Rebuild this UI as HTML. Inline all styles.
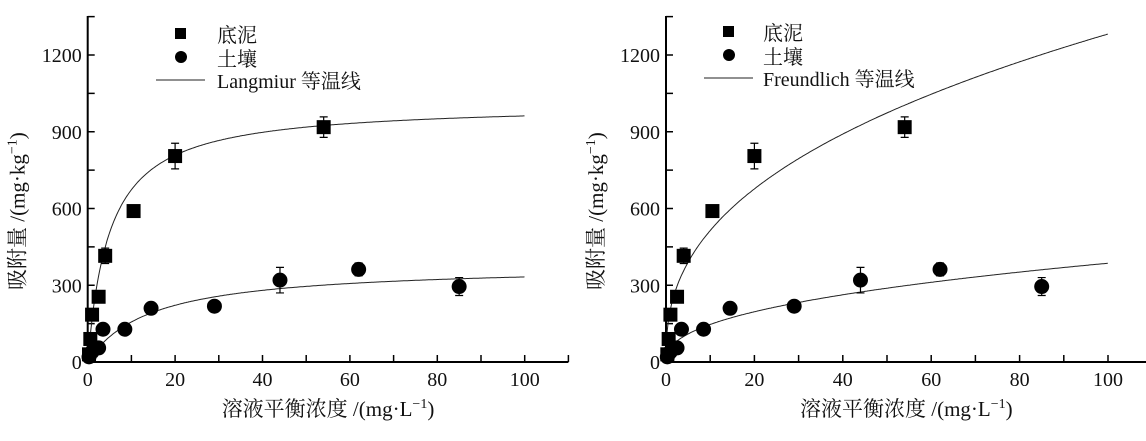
<!DOCTYPE html>
<html><head><meta charset="utf-8"><style>
html,body{margin:0;padding:0;background:#fff;}
svg text{font-family:"Liberation Serif","Noto Serif CJK SC",serif;fill:#111;}
</style></head><body>
<svg id="s" width="1146" height="436" xmlns="http://www.w3.org/2000/svg"></svg>
<script>
const s=document.getElementById('s');
let h='';
function chart(x0,sx,fit){
  const y0=362, sy=307/1200;
  const X=v=>x0+v*sx, Y=v=>y0-v*sy;
  h+=`<line x1="${x0}" y1="16" x2="${x0}" y2="${y0}" stroke="#000" stroke-width="2"/>`;
  h+=`<line x1="${x0-1}" y1="${y0}" x2="${X(110)}" y2="${y0}" stroke="#000" stroke-width="2"/>`;
  for(let v=0;v<=1350;v+=150){ if(v>0) h+=`<line x1="${x0}" y1="${Y(v)}" x2="${x0+7}" y2="${Y(v)}" stroke="#000" stroke-width="1.5"/>`;
    if(v%300==0) h+=`<text x="${x0-6}" y="${Y(v)+7}" font-size="20" text-anchor="end">${v}</text>`;}
  for(let v=10;v<=110;v+=10){ h+=`<line x1="${X(v)}" y1="${y0}" x2="${X(v)}" y2="${y0-7}" stroke="#000" stroke-width="1.5"/>`;}
  for(let v=0;v<=100;v+=20) h+=`<text x="${X(v)}" y="386" font-size="20" text-anchor="middle">${v}</text>`;
  h+=`<text x="${x0+134}" y="416" font-size="21">溶液平衡浓度 /(mg·L<tspan font-size="14" dy="-8">−1</tspan><tspan dy="8">)</tspan></text>`;
  h+=`<text transform="translate(${x0-63},290) rotate(-90)" font-size="21">吸附量 /(mg·kg<tspan font-size="14" dy="-8">−1</tspan><tspan dy="8">)</tspan></text>`;
  for(const f of fit){ let p=''; for(let c=0.2;c<=100;c+=0.25){p+=(p?'L':'M')+X(c).toFixed(1)+','+Y(f(c)).toFixed(1);} h+=`<path d="${p}" fill="none" stroke="#222" stroke-width="1"/>`;}
  const sq=[[0.3,30],[0.6,90],[1,185],[2.5,255,0],[4,415,30],[10.5,590,0],[20,805,50],[54,918,40]];
  const ci=[[0.3,20],[1,40],[2.5,55],[3.5,128],[8.5,128],[14.5,210],[29,218],[44,320,50],[62,362,25],[85,295,35]];
  for(const d of sq){ if(d[2]) h+=eb(X(d[0]),Y(d[1]),d[2]*sy); h+=`<rect x="${X(d[0])-7}" y="${Y(d[1])-7}" width="14" height="14" fill="#000"/>`;}
  for(const d of ci){ if(d[2]) h+=eb(X(d[0]),Y(d[1]),d[2]*sy); h+=`<circle cx="${X(d[0])}" cy="${Y(d[1])}" r="7.5" fill="#000"/>`;}
}
function eb(x,y,e){return `<path d="M${x},${y-e}V${y+e}M${x-4},${y-e}H${x+4}M${x-4},${y+e}H${x+4}" stroke="#000" stroke-width="1.2"/>`;}
chart(87.7,4.37,[c=>1010*0.2*c/(1+0.2*c),c=>380*0.07*c/(1+0.07*c)]);
h+=`<rect x="175" y="28" width="11" height="11" fill="#000"/><circle cx="181" cy="57" r="6" fill="#000"/><line x1="156" y1="80" x2="205" y2="80" stroke="#222"/>`;
h+=`<text x="217" y="42" font-size="20">底泥</text><text x="217" y="66" font-size="20">土壤</text><text x="217" y="88" font-size="20">Langmiur 等温线</text>`;
chart(666,4.42,[c=>206*Math.pow(c,0.397),c=>55.8*Math.pow(c,0.42)]);
h+=`<rect x="723" y="26" width="11" height="11" fill="#000"/><circle cx="729" cy="55" r="6" fill="#000"/><line x1="704" y1="78" x2="753" y2="78" stroke="#222"/>`;
h+=`<text x="763" y="40" font-size="20">底泥</text><text x="763" y="64" font-size="20">土壤</text><text x="763" y="86" font-size="20">Freundlich 等温线</text>`;
s.innerHTML=h;
</script>
</body></html>
